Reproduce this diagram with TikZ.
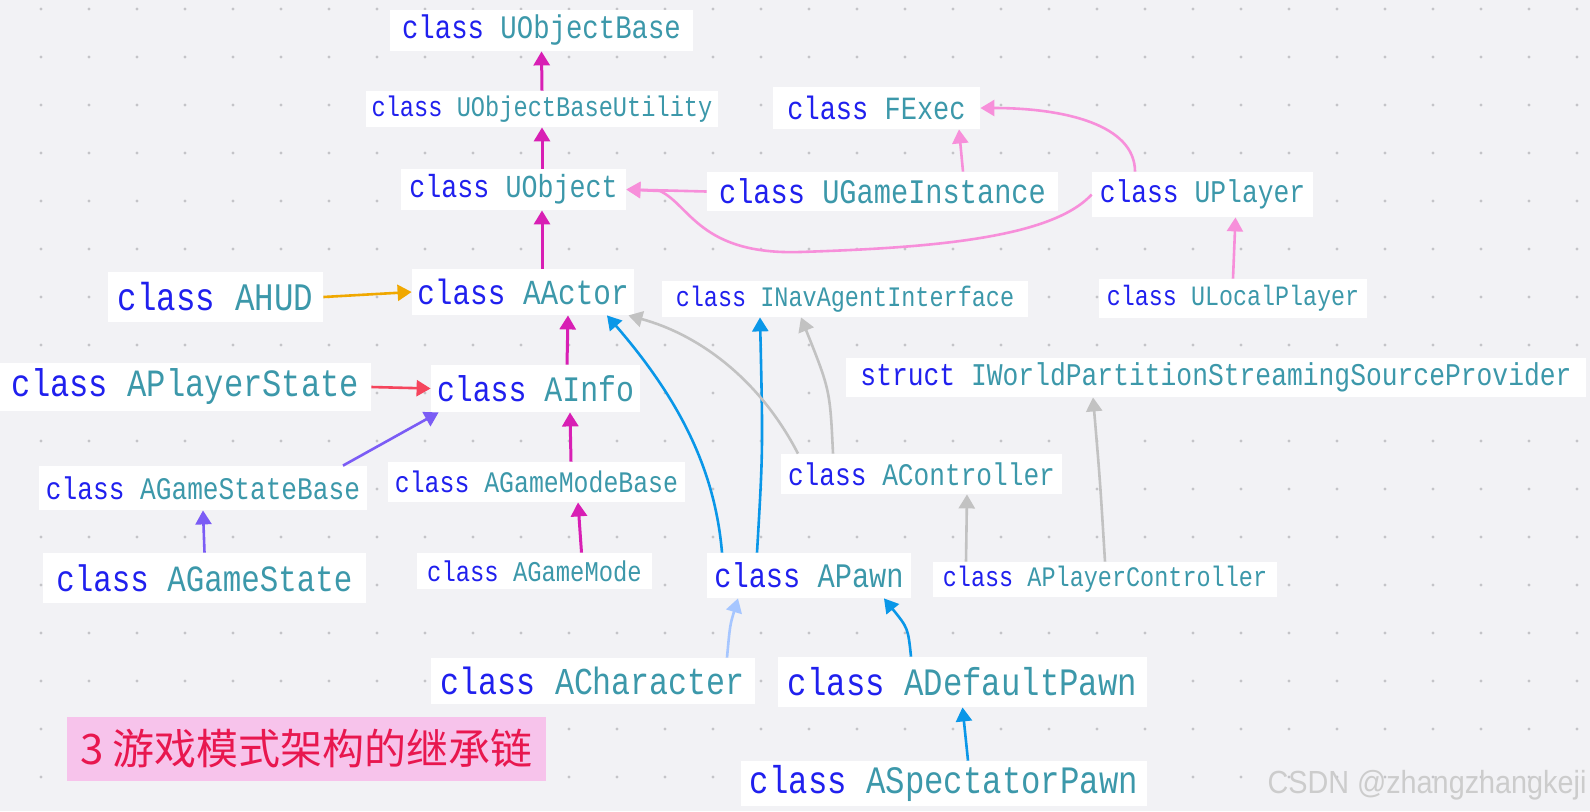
\documentclass[tikz,border=0pt]{standalone}
\usepackage{fontspec}
\usetikzlibrary{arrows.meta,calc}
\newfontfamily\cf[FakeStretch=0.8333]{Liberation Mono}
\newfontfamily\cjk{Noto Sans CJK SC}
\newfontfamily\wmfont[FakeStretch=0.9]{Liberation Sans}
\definecolor{bg}{HTML}{F2F2F5}
\definecolor{dotc}{HTML}{C4C4C8}
\definecolor{kw}{HTML}{2020EE}
\definecolor{nm}{HTML}{3C98AA}
\definecolor{mag}{HTML}{D81FB4}
\definecolor{pinkl}{HTML}{F78FDA}
\definecolor{orng}{HTML}{F0A800}
\definecolor{redl}{HTML}{F5455C}
\definecolor{purp}{HTML}{7B5CF5}
\definecolor{blu}{HTML}{0A97E8}
\definecolor{blul}{HTML}{A6C6FF}
\definecolor{gryl}{HTML}{C2C2C2}
\definecolor{ttlbg}{HTML}{F7C3EB}
\definecolor{ttlfg}{HTML}{E8174F}
\newcommand{\cls}[3][class]{{\cf\fontsize{#2pt}{#2pt}\selectfont\textcolor{kw}{#1} \textcolor{nm}{#3}}}
\tikzset{
  box/.style={fill=white, inner sep=0pt},
  sz/.style 2 args={minimum width=#1*0.5pt, minimum height=#2*0.5pt},
  inh/.style={line width=1.3pt, -{Triangle[length=7pt,width=8pt]}},
}
\begin{document}
\begin{tikzpicture}[x=0.5pt,y=-0.5pt]
\useasboundingbox (0,0) rectangle (1590,811);
\fill[bg] (0,0) rectangle (1590,811);
\foreach \i in {0,...,32}{\foreach \j in {0,...,16}{
  \fill[dotc] (41+48*\i,9+48*\j) circle (0.8pt);}}
% nodes
\node[box,sz={303}{41}] (uob) at (541.5,30.5) {\cls{16.4}{UObjectBase}};
\node[box,sz={352}{36}] (uobu) at (542,109) {\cls{14.2}{UObjectBaseUtility}};
\node[box,sz={225}{41}] (uo) at (513.5,189.5) {\cls{16}{UObject}};
\node[box,sz={215}{50}] (ahud) at (215.5,297) {\cls{19.5}{AHUD}};
\node[box,sz={222}{46}] (aactor) at (523,292) {\cls{17.6}{AActor}};
\node[box,sz={371}{48}] (aps) at (185.5,387) {\cls{19.3}{APlayerState}};
\node[box,sz={209}{47}] (ainfo) at (535.5,388.5) {\cls{17.9}{AInfo}};
\node[box,sz={207}{42}] (fexec) at (876.5,108) {\cls{16.2}{FExec}};
\node[box,sz={351}{39}] (ugi) at (882.5,191.5) {\cls{17.2}{UGameInstance}};
\node[box,sz={221}{45}] (uplayer) at (1202.5,194.5) {\cls{15.8}{UPlayer}};
\node[box,sz={366}{36}] (inav) at (845,299) {\cls{14.1}{INavAgentInterface}};
\node[box,sz={268}{39}] (ulp) at (1233,298.5) {\cls{14}{ULocalPlayer}};
\node[box,sz={740}{39}] (wpsp) at (1216,377.5) {\cls[struct]{15.8}{IWorldPartitionStreamingSourceProvider}};
\node[box,sz={328}{44}] (agsb) at (203,488) {\cls{15.7}{AGameStateBase}};
\node[box,sz={297}{40}] (agmb) at (536.5,482) {\cls{14.9}{AGameModeBase}};
\node[box,sz={323}{50}] (ags) at (204.5,578) {\cls{18.5}{AGameState}};
\node[box,sz={235}{36}] (agm) at (534.5,571) {\cls{14.3}{AGameMode}};
\node[box,sz={324}{46}] (achar) at (593,681) {\cls{19}{ACharacter}};
\node[box,sz={281}{40}] (actrl) at (921.5,474) {\cls{15.7}{AController}};
\node[box,sz={204}{45}] (apawn) at (809,575.5) {\cls{17.2}{APawn}};
\node[box,sz={344}{35}] (apc) at (1105,579.5) {\cls{14.1}{APlayerController}};
\node[box,sz={369}{50}] (adp) at (962.5,682) {\cls{19.4}{ADefaultPawn}};
\node[box,sz={406}{45}] (asp) at (944,783.5) {\cls{19.4}{ASpectatorPawn}};
\node[fill=ttlbg, inner sep=0pt, sz={479}{64}, text=ttlfg, font=\cjk\fontsize{21pt}{21pt}\selectfont] (title) at (306.5,749) {3 游戏模式架构的继承链};
\node[text=gray!40, font=\wmfont\fontsize{16pt}{16pt}\selectfont, inner sep=0pt] (wm) at (1427,785) {CSDN @zhangzhangkeji};
% magenta
\draw[inh,mag,line width=1.5pt] (uobu.north) -- (uob.south);
\draw[inh,mag,line width=1.5pt] (uo.north -| uobu.south) -- (uobu.south);
\draw[inh,mag,line width=1.5pt] (aactor.north -| uobu.south) -- (uo.south -| uobu.south);
\draw[inh,mag,line width=1.5pt] ($(ainfo.north)+(31.5,0)$) -- ($(aactor.south)+(45,0)$);
\draw[inh,mag,line width=1.5pt] ($(agmb.north)+(34.5,0)$) -- ($(ainfo.south)+(34.5,0)$);
\draw[inh,mag,line width=1.5pt] ($(agm.north)+(47,0)$) -- ($(agmb.south)+(41.5,0)$);
% orange, red, purple
\draw[inh,orng] (ahud.east) -- (aactor.west);
\draw[inh,redl] (aps.east) -- (ainfo.west);
\draw[inh,purp] ($(agsb.north)+(140,0)$) -- ($(ainfo.south west)+(8,0)$);
\draw[inh,purp] (ags.north) -- (agsb.south);
% pink
\draw[inh,pinkl] (ugi.west) -- (uo.east);
\draw[inh,pinkl] (uplayer.west) .. controls (1050,240) and (920,248) .. (800,252)
   .. controls (700,255) and (690,205) .. (660,191) -- (uo.east);
\draw[inh,pinkl] ($(ugi.north)+(80.5,0)$) -- ($(fexec.south)+(82.5,0)$);
\draw[inh,pinkl] ($(uplayer.north)+(-67.5,0)$) .. controls (1135,125) and (1065,108) .. (fexec.east);
\draw[inh,pinkl] (ulp.north) -- ($(uplayer.south)+(33,0)$);
% blue
\draw[inh,blu] ($(apawn.north)+(-87,0)$) .. controls (715,470) and (680,400) .. ($(aactor.south)+(84,0)$);
\draw[inh,blu] ($(apawn.north)+(-52,0)$) .. controls (763,450) .. ($(inav.south)+(-85,0)$);
\draw[inh,blu] ($(adp.north)+(-51.5,0)$) .. controls (908,628) .. ($(apawn.south)+(75,0)$);
\draw[inh,blu] ($(asp.north)+(24,0)$) -- (adp.south);
\draw[inh,blul] ($(achar.north)+(134,0)$) .. controls (730,625) .. ($(apawn.south)+(-71,0)$);
% grey
\draw[inh,gryl] ($(actrl.north)+(-123.5,0)$) .. controls (760,380) and (700,335) .. ($(aactor.south east)+(-6,0)$);
\draw[inh,gryl] ($(actrl.north)+(-88.5,0)$) .. controls (830,390) .. ($(inav.south)+(-44,0)$);
\draw[inh,gryl] ($(apc.north)+(-139,0)$) -- ($(actrl.south)+(45.5,0)$);
\draw[inh,gryl] (apc.north) .. controls (1100,480) .. ($(wpsp.south)+(-123,0)$);
\end{tikzpicture}
\end{document}
